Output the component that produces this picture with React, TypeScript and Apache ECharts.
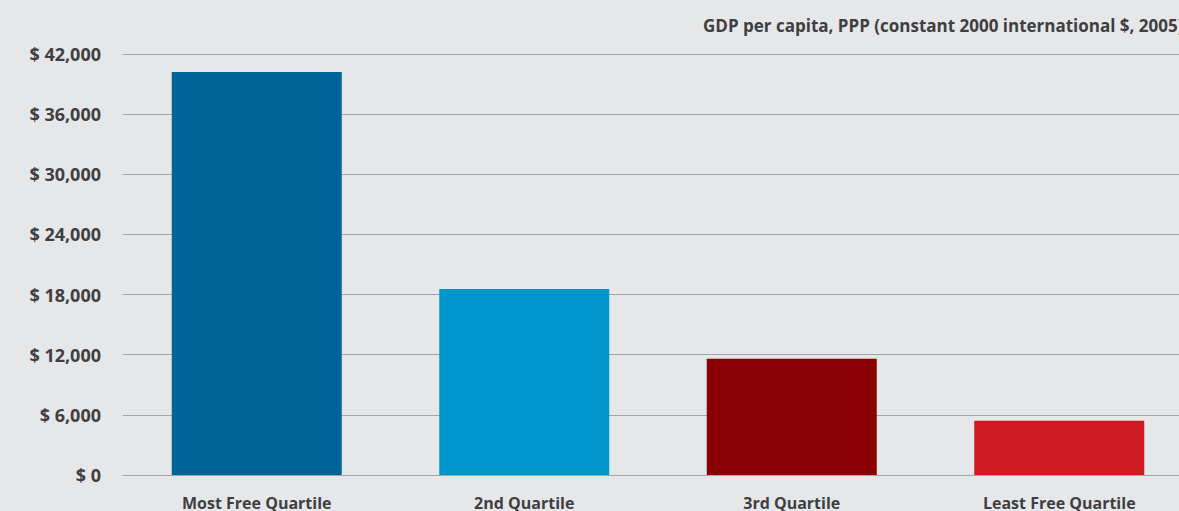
import React, { useEffect, useRef } from "react";
import * as echarts from "echarts";

const categories = ["Most Free Quartile", "2nd Quartile", "3rd Quartile", "Least Free Quartile"];
const values = [40200, 18550, 11600, 5400];
const barColors = ["#006499", "#0096cc", "#8b0004", "#cf1920"];
const yTicks = [0, 6000, 12000, 18000, 24000, 30000, 36000, 42000];
const titleText = "GDP per capita, PPP (constant 2000 international $, 2005)";

export default function App() {
  const ref = useRef<HTMLDivElement>(null);
  useEffect(() => {
    if (!ref.current) return;
    const chart = echarts.init(ref.current, undefined, { renderer: "svg" });
    const font = "'Open Sans', sans-serif";
    chart.setOption({
      animation: false,
      backgroundColor: "#e6e7e9",
      title: {
        text: titleText,
        left: 698,
        top: 12,
        textStyle: { fontFamily: font, fontWeight: "bold", fontSize: 17, color: "#3f3f42" },
      },
      grid: { left: 123, right: 0, top: 54, bottom: 36, containLabel: false },
      xAxis: {
        type: "category",
        data: categories,
        axisLine: { show: true, lineStyle: { color: "#a3a4a6", width: 1 } },
        axisTick: { show: false },
        axisLabel: {
          margin: 20,
          interval: 0,
          fontFamily: font,
          fontWeight: "bold",
          fontSize: 16,
          color: "#3f3f42",
        },
      },
      yAxis: {
        type: "value",
        min: yTicks[0],
        max: yTicks[yTicks.length - 1],
        interval: 6000,
        axisLine: { show: false },
        axisTick: { show: false },
        splitLine: { lineStyle: { color: "#a3a4a6", width: 1 } },
        axisLabel: {
          margin: 22,
          fontFamily: font,
          fontWeight: "bold",
          fontSize: 18,
          color: "#3f3f42",
          formatter: (v: number) => "$ " + v.toLocaleString("en-US"),
        },
      },
      series: [
        {
          type: "bar",
          barWidth: 170,
          data: values.map((v, i) => ({ value: v, itemStyle: { color: barColors[i] } })),
        },
      ],
    });
    return () => chart.dispose();
  }, []);
  return (
    <div style={{ position: "absolute", left: 0, top: 0, width: 1179, height: 511, overflow: "hidden" }}>
      <div ref={ref} style={{ width: 1193, height: 511 }} />
    </div>
  );
}
